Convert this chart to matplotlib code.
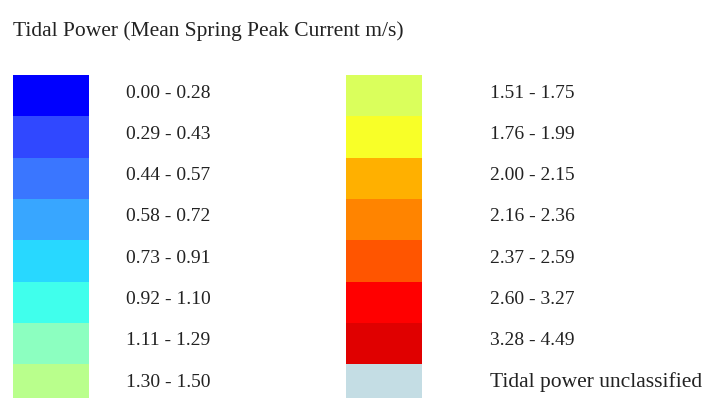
import matplotlib
matplotlib.use("Agg")
import matplotlib.pyplot as plt

# Legend classes (Mean Spring Peak Current, m/s)
title = "Tidal Power (Mean Spring Peak Current m/s)"
left_labels = ["0.00 - 0.28", "0.29 - 0.43", "0.44 - 0.57", "0.58 - 0.72",
               "0.73 - 0.91", "0.92 - 1.10", "1.11 - 1.29", "1.30 - 1.50"]
left_colors = ["#0000FF", "#3048FF", "#3A76FF", "#38A6FF",
               "#28D8FF", "#40FFEC", "#8CFFC0", "#B9FF8C"]
right_labels = ["1.51 - 1.75", "1.76 - 1.99", "2.00 - 2.15", "2.16 - 2.36",
                "2.37 - 2.59", "2.60 - 3.27", "3.28 - 4.49", "Tidal power unclassified"]
right_colors = ["#DAFF5C", "#F8FF28", "#FFB000", "#FF8400",
                "#FF5500", "#FF0000", "#E00000", "#C4DDE4"]

W, H = 711, 398
fig = plt.figure(figsize=(W / 100, H / 100), dpi=100)
ax = fig.add_axes([0, 0, 1, 1])
ax.set_xlim(0, W)
ax.set_ylim(H, 0)
ax.axis("off")

font = "Liberation Serif"
top, row_h = 75, 41.3

ax.text(13, 36, title, fontsize=15.5, family=font, color="#222222", va="baseline")

columns = [(13, 126, left_labels, left_colors), (346, 490, right_labels, right_colors)]
for x0, tx, labels, colors in columns:
    n = len(labels)
    bottoms = [top + i * row_h for i in range(n)]
    ax.bar([x0] * n, [row_h] * n, width=76, bottom=bottoms, color=colors,
           align="edge", linewidth=0)
    for i, lab in enumerate(labels):
        size = 15.5 if lab[0].isalpha() else 14
        ax.text(tx, top + i * row_h + 18, lab, fontsize=size, family=font,
                color="#222222", va="center")

fig.savefig("out.png", dpi=100)
